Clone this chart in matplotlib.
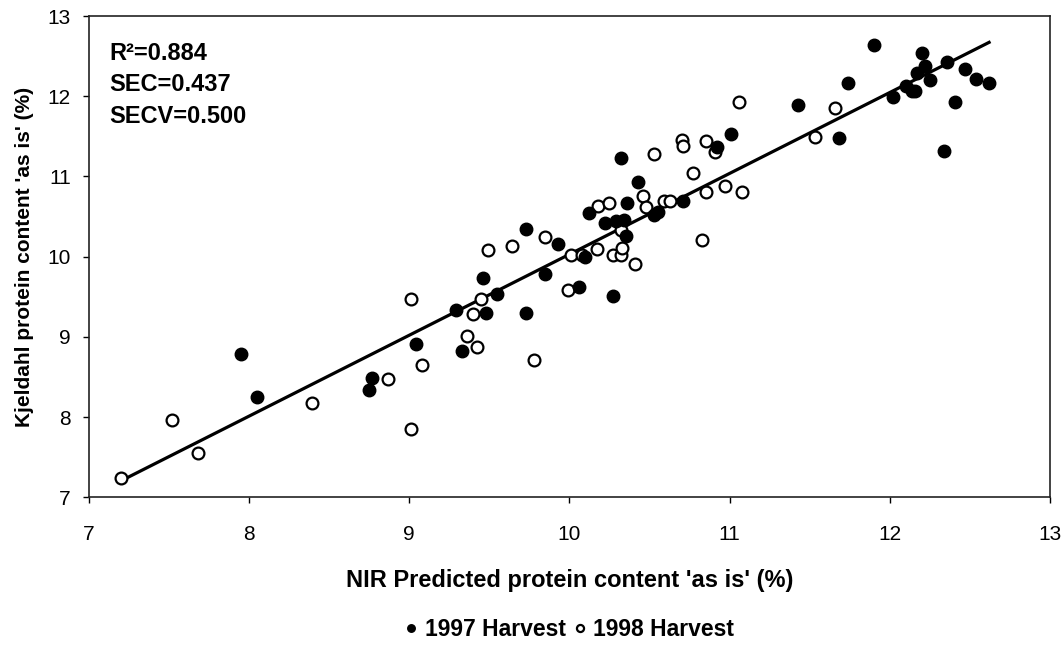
import numpy as np
import matplotlib.pyplot as plt

plt.rcParams['font.family'] = ['Liberation Sans', 'DejaVu Sans']

# 1997 harvest (filled)
x97 = [7.95, 8.05, 8.75, 8.77, 9.04, 9.29, 9.33, 9.46, 9.48, 9.55, 9.73, 9.73,
       9.85, 9.93, 10.06, 10.10, 10.12, 10.22, 10.27, 10.29, 10.34, 10.32, 10.35,
       10.36, 10.43, 10.53, 10.55, 10.71, 10.92, 11.01, 11.43, 11.68, 11.74, 11.90,
       12.02, 12.10, 12.14, 12.16, 12.17, 12.20, 12.22, 12.25, 12.34, 12.36, 12.41,
       12.47, 12.54, 12.62]
y97 = [8.79, 8.25, 8.34, 8.49, 8.91, 9.34, 8.83, 9.73, 9.30, 9.53, 10.34, 9.30,
       9.78, 10.16, 9.62, 9.99, 10.55, 10.42, 9.51, 10.45, 10.46, 11.23, 10.26,
       10.67, 10.93, 10.52, 10.56, 10.69, 11.37, 11.53, 11.89, 11.48, 12.17, 12.64,
       11.99, 12.13, 12.07, 12.07, 12.29, 12.54, 12.38, 12.20, 11.32, 12.43, 11.93,
       12.34, 12.22, 12.17]

# 1998 harvest (open)
x98 = [7.20, 7.52, 7.68, 8.39, 8.87, 9.01, 9.01, 9.08, 9.36, 9.40, 9.42, 9.45,
       9.49, 9.64, 9.78, 9.85, 9.99, 10.01, 10.08, 10.17, 10.18, 10.25, 10.27,
       10.32, 10.33, 10.32, 10.41, 10.46, 10.48, 10.53, 10.59, 10.63, 10.70, 10.71,
       10.77, 10.83, 10.85, 10.85, 10.91, 10.97, 11.06, 11.08, 11.53, 11.66]
y98 = [7.24, 7.96, 7.55, 8.17, 8.47, 9.47, 7.85, 8.65, 9.01, 9.28, 8.87, 9.47,
       10.08, 10.13, 8.71, 10.25, 9.58, 10.02, 10.02, 10.10, 10.63, 10.67, 10.02,
       10.02, 10.11, 10.33, 9.91, 10.76, 10.62, 11.28, 10.70, 10.69, 11.45, 11.38,
       11.04, 10.21, 10.81, 11.44, 11.30, 10.88, 11.93, 10.80, 11.49, 11.85]

stats = "R\u00b2=0.884\nSEC=0.437\nSECV=0.500"

fig = plt.figure(figsize=(10.64, 6.46), dpi=100)
ax = fig.add_axes([0.0836, 0.2302, 0.9032, 0.745])

xa = np.array(x97 + x98)
ya = np.array(y97 + y98)
k, b = np.polyfit(xa, ya, 1)
xl = np.array([xa.min(), xa.max()])
ax.plot(xl, k * xl + b, color='black', lw=2.3, zorder=1)

ax.plot(x97, y97, 'o', color='black', ms=9, mec='black', ls='none',
        label='1997 Harvest', zorder=3)
ax.plot(x98, y98, 'o', mfc='white', mec='black', mew=1.6, ms=8.5, ls='none',
        label='1998 Harvest', zorder=2)

ax.set_xlim(7, 13)
ax.set_ylim(7, 13)
ax.set_xticks(range(7, 14))
ax.set_yticks(range(7, 14))
ax.tick_params(axis='x', direction='out', length=4, width=1, labelsize=15, pad=16)
ax.tick_params(axis='y', direction='out', length=4, width=1, labelsize=15, pad=9)
for s in ax.spines.values():
    s.set_linewidth(1.2)
    s.set_color('#222222')

ax.set_xlabel("NIR Predicted protein content 'as is' (%)", fontsize=17,
              fontweight='bold', labelpad=18)
ax.set_ylabel("Kjeldahl protein content 'as is' (%)", fontsize=15,
              fontweight='bold', labelpad=10)

ax.text(0.021, 0.947, stats, transform=ax.transAxes, ha='left', va='top',
        fontsize=17, fontweight='bold', linespacing=1.48)

handles, labels = ax.get_legend_handles_labels()
fig.legend(handles, labels, loc='center', bbox_to_anchor=(0.535, 0.025),
           ncol=2, frameon=False, markerscale=0.6, handlelength=0.6,
           handletextpad=0.3, columnspacing=0.3,
           prop={'size': 16.5, 'weight': 'bold'})

fig.savefig('out.png', dpi=100)
